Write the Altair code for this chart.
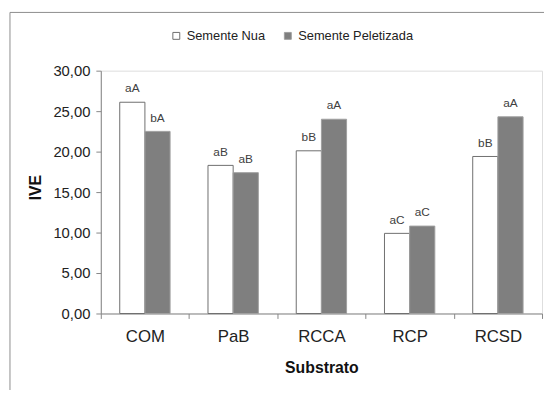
import altair as alt
import pandas as pd

categories = ["COM", "PaB", "RCCA", "RCP", "RCSD"]
series = ["Semente Nua", "Semente Peletizada"]
nua = [26.1, 18.3, 20.1, 9.9, 19.4]
pelet = [22.5, 17.4, 24.0, 10.8, 24.3]
labels_nua = ["aA", "aB", "bB", "aC", "bB"]
labels_pel = ["bA", "aB", "aA", "aC", "aA"]
y_ticks = [0, 5, 10, 15, 20, 25, 30]

rows = []
for c, v, l in zip(categories, nua, labels_nua):
    rows.append({"Substrato": c, "Serie": series[0], "IVE": v, "label": l})
for c, v, l in zip(categories, pelet, labels_pel):
    rows.append({"Substrato": c, "Serie": series[1], "IVE": v, "label": l})
df = pd.DataFrame(rows)

FONT = "Liberation Sans"
AXIS_GRAY = "#868686"

x_enc = alt.X(
    "Substrato:N",
    sort=categories,
    scale=alt.Scale(paddingInner=0, paddingOuter=0),
    axis=alt.Axis(
        title="Substrato",
        labelAngle=0,
        labelFontSize=17,
        labelColor="#222222",
        labelFont=FONT,
        labelPadding=10,
        labelBaseline="top",
        tickBand="extent",
        tickSize=5,
        tickColor=AXIS_GRAY,
        domainColor=AXIS_GRAY,
        titleFont=FONT,
        titleFontSize=16,
        titleFontWeight="bold",
        titleColor="#111111",
        titleBaseline="alphabetic",
        titleY=60,
    ),
)
xoff = alt.XOffset("Serie:N", sort=series, scale=alt.Scale(paddingInner=0, paddingOuter=0.753))
y_enc = alt.Y(
    "IVE:Q",
    scale=alt.Scale(domain=[0, 30], nice=False),
    axis=alt.Axis(
        title="IVE",
        values=y_ticks,
        labelExpr="replace(format(datum.value, '.2f'), '.', ',')",
        labelFontSize=15,
        labelFont=FONT,
        labelColor="#222222",
        labelPadding=6,
        tickSize=5,
        tickColor=AXIS_GRAY,
        domainColor=AXIS_GRAY,
        grid=False,
        titleFont=FONT,
        titleFontSize=16,
        titleFontWeight="bold",
        titleColor="#111111",
        titleAngle=-90,
        titleAlign="center",
        titleBaseline="middle",
        titleX=-66,
        titleY=118,
    ),
)

legend_cfg = dict(
    title=None,
    orient="none",
    direction="horizontal",
    legendX=70,
    legendY=-42,
    padding=0,
    symbolType="square",
    symbolSize=49,
    symbolStrokeWidth=1,
    labelFont=FONT,
    labelFontSize=13,
    labelColor="#222222",
    labelOffset=4,
    columnPadding=16,
)

bars = alt.Chart(df).mark_bar(strokeWidth=1).encode(
    x=x_enc,
    xOffset=xoff,
    y=y_enc,
    fill=alt.Fill(
        "Serie:N",
        sort=series,
        scale=alt.Scale(domain=series, range=["#ffffff", "#7f7f7f"]),
        legend=alt.Legend(**legend_cfg),
    ),
    stroke=alt.Stroke(
        "Serie:N",
        sort=series,
        scale=alt.Scale(domain=series, range=["#6e6e6e", "#a0a0a0"]),
        legend=alt.Legend(**legend_cfg),
    ),
)

text = alt.Chart(df).mark_text(
    dy=-10, baseline="alphabetic", fontSize=12, font=FONT, color="#404040"
).encode(
    x=alt.X("Substrato:N", sort=categories),
    xOffset=alt.XOffset("Serie:N", sort=series),
    y=alt.Y("IVE:Q"),
    text="label:N",
)

border = alt.Chart(pd.DataFrame({"a": [0]})).mark_rect(
    fill=None, stroke="#8c8c8c", strokeWidth=1
).encode(
    x=alt.value(-92),
    x2=alt.value(470),
    y=alt.value(-59),
    y2=alt.value(400),
)

chart = alt.layer(border, bars, text).properties(
    width=447,
    height=246,
    autosize=alt.AutoSizeParams(type="none"),
    padding={"left": 94, "top": 61, "right": 2, "bottom": 75},
).configure_view(stroke=None).configure(background="white")

chart.save("out.html", embed_options={"renderer": "svg", "actions": False})
